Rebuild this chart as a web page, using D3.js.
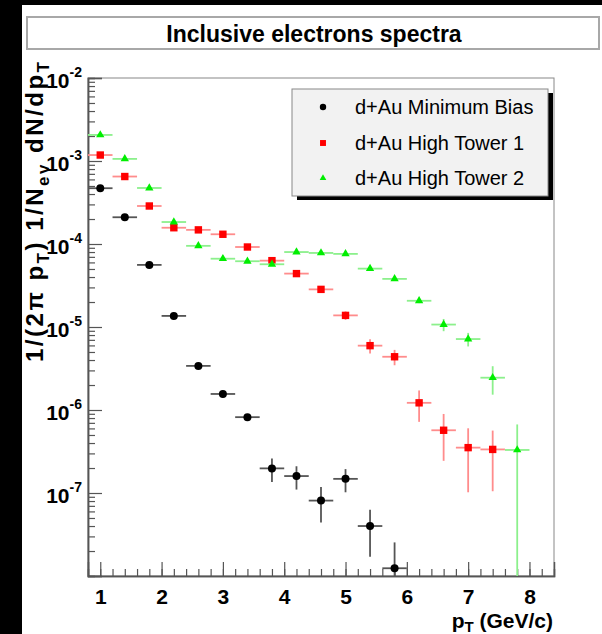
<!DOCTYPE html>
<html><head><meta charset="utf-8">
<script src="https://cdn.jsdelivr.net/npm/d3@7"></script>
<style>body{margin:0;background:#000;} svg{display:block;font-family:"Liberation Sans",Arial,sans-serif}</style>
</head><body>
<svg id="c" width="602" height="634"></svg>
<script>
// ---- data ----
const ptMB  = [1.0,1.4,1.8,2.2,2.6,3.0,3.4,3.8,4.2,4.6,5.0,5.4,5.8];
const valMB = [4.7e-4,2.1e-4,5.6e-5,1.36e-5,3.4e-6,1.56e-6,8.2e-7,1.98e-7,1.6e-7,8.1e-8,1.48e-7,4.0e-8,1.24e-8];
const errMB = [1e-5,5e-6,1.5e-6,5e-7,2e-7,1.4e-7,7e-8,6.2e-8,5e-8,3.7e-8,4.6e-8,2.3e-8,1.3e-8];

const ptHT1  = [1.0,1.4,1.8,2.2,2.6,3.0,3.4,3.8,4.2,4.6,5.0,5.4,5.8,6.2,6.6,7.0,7.4];
const valHT1 = [1.18e-3,6.5e-4,2.87e-4,1.57e-4,1.48e-4,1.31e-4,9.2e-5,6.3e-5,4.4e-5,2.84e-5,1.38e-5,5.96e-6,4.38e-6,1.22e-6,5.7e-7,3.52e-7,3.35e-7];
const errHT1 = [1.5e-5,8e-6,4e-6,2.5e-6,2.4e-6,2.2e-6,1.8e-6,1.5e-6,1.3e-6,1.1e-6,1.6e-6,1.15e-6,9.2e-7,5e-7,3.26e-7,2.5e-7,2.3e-7];

const ptHT2  = [1.0,1.4,1.8,2.2,2.6,3.0,3.4,3.8,4.2,4.6,5.0,5.4,5.8,6.2,6.6,7.0,7.4,7.8];
const valHT2 = [2.06e-3,1.06e-3,4.73e-4,1.84e-4,9.5e-5,6.65e-5,6.2e-5,5.7e-5,8.0e-5,7.8e-5,7.6e-5,5.05e-5,3.8e-5,2.07e-5,1.07e-5,7.16e-6,2.45e-6,3.3e-7];
const errHT2 = [3e-5,1.5e-5,7e-6,3e-6,2e-6,1.5e-6,1.4e-6,1.3e-6,1.8e-6,1.8e-6,1.8e-6,1.6e-6,1.4e-6,1.3e-6,1.8e-6,1.33e-6,9.2e-7,3.4e-7];

const binHalfWidth = 0.2;
const xTicks = [1,2,3,4,5,6,7,8];
const xTickLabels = ["1","2","3","4","5","6","7","8"];
const yDecades = [-2,-3,-4,-5,-6,-7];
const seriesNames = ["d+Au Minimum Bias","d+Au High Tower 1","d+Au High Tower 2"];
const titleText = "Inclusive electrons spectra";

// ---- layout ----
const L=88, R=554, T=78, B=576;
const svg = d3.select("#c");
svg.append("rect").attr("x",22).attr("y",5).attr("width",580).attr("height",629).attr("fill","#fff");

// title
svg.append("rect").attr("x",27).attr("y",17).attr("width",572).attr("height",32)
  .attr("fill","#fff").attr("stroke","#a8a8a8").attr("stroke-width",2);
svg.append("text").attr("x",314).attr("y",41.5).attr("text-anchor","middle")
  .attr("font-size",23).attr("font-weight","bold").attr("fill","#000").text(titleText);

const x = d3.scaleLinear().domain([0.8,8.4]).range([L,R]);
const y = d3.scaleLog().domain([1e-8,1e-2]).range([B,T]);

// frame
svg.append("rect").attr("x",L).attr("y",T).attr("width",R-L).attr("height",B-T)
  .attr("fill","none").attr("stroke","#888").attr("stroke-width",1);

// x axis ticks
const minorX = d3.range(4,43).map(i=>i*0.2).filter(v=>v>0.8+1e-9 && v<8.4-1e-9);
const gxm = svg.append("g").attr("transform",`translate(0,${B})`)
  .call(d3.axisBottom(x).tickValues(minorX).tickSize(-7).tickFormat(""));
const gx = svg.append("g").attr("transform",`translate(0,${B})`)
  .call(d3.axisBottom(x).tickValues(xTicks).tickSize(-14).tickPadding(13)
        .tickFormat((d,i)=>xTickLabels[i]));
// y axis ticks
const minorY = [];
for (let e=-8;e<-2;e++) for (let m=2;m<=9;m++) minorY.push(m*Math.pow(10,e));
const gym = svg.append("g").attr("transform",`translate(${L},0)`)
  .call(d3.axisLeft(y).tickValues(minorY).tickSize(-7).tickFormat(""));
const gy = svg.append("g").attr("transform",`translate(${L},0)`)
  .call(d3.axisLeft(y).tickValues(yDecades.map(d=>Math.pow(10,d)).concat([1e-8])).tickSize(-14).tickFormat(""));
[gxm,gx,gym,gy].forEach(g=>{
  g.select(".domain").attr("stroke","#555").attr("stroke-width",1.5);
  g.selectAll(".tick line").attr("stroke","#555").attr("stroke-width",1.2);
});
gx.selectAll(".tick text").attr("font-size",21).attr("font-weight","bold")
  .attr("fill","#000").attr("font-family","Liberation Sans, Arial, sans-serif");

// y labels 10^n
yDecades.forEach(d=>{
  const t = svg.append("text").attr("x",82).attr("y",y(Math.pow(10,d))+9.5)
    .attr("text-anchor","end").attr("font-weight","bold").attr("fill","#000");
  t.append("tspan").attr("font-size",21).text("10");
  t.append("tspan").attr("font-size",14).attr("dy",-11).text(String(d));
});

// axis titles
const yt = svg.append("text").attr("transform","translate(43,62) rotate(-90)")
  .attr("text-anchor","end").attr("font-weight","bold").attr("font-size",24).attr("fill","#000")
  .attr("textLength",300).attr("lengthAdjust","spacing");
yt.append("tspan").text("1/(2\u03C0 p");
yt.append("tspan").attr("font-size",17).attr("dy",6).text("T");
yt.append("tspan").attr("dy",-6).text(") 1/N");
yt.append("tspan").attr("font-size",17).attr("dy",6).text("ev");
yt.append("tspan").attr("dy",-6).text(" dN/dp");
yt.append("tspan").attr("font-size",17).attr("dy",6).text("T");

const xt = svg.append("text").attr("x",553).attr("y",628).attr("text-anchor","end")
  .attr("font-weight","bold").attr("font-size",21).attr("fill","#000");
xt.append("tspan").text("p");
xt.append("tspan").attr("font-size",15).attr("dy",4).text("T");
xt.append("tspan").attr("dy",-4).text(" (GeV/c)");

// ---- series ----
const series = [
  {pt:ptMB, v:valMB, e:errMB, color:"#000", ecolor:"#555", marker:"circle"},
  {pt:ptHT1, v:valHT1, e:errHT1, color:"#ff0000", ecolor:"#ff8c8c", marker:"square"},
  {pt:ptHT2, v:valHT2, e:errHT2, color:"#00ee00", ecolor:"#8cf08c", marker:"triangle"}
];
const clampY = v => (v<=1e-8 ? B : Math.max(T, Math.min(B, y(v))));

function drawMarker(g, type, cx, cy, color, s){
  if (type==="circle") g.append("circle").attr("cx",cx).attr("cy",cy).attr("r",4*s).attr("fill",color);
  else if (type==="square") g.append("rect").attr("x",cx-3.7*s).attr("y",cy-3.7*s).attr("width",7.4*s).attr("height",7.4*s).attr("fill",color);
  else g.append("path").attr("d",d3.symbol(d3.symbolTriangle, 30*s*s)()).attr("transform",`translate(${cx},${cy})`).attr("fill",color);
}

series.forEach(s=>{
  const g = svg.append("g");
  s.pt.forEach((p,i)=>{
    const v=s.v[i], e=s.e[i];
    g.append("line").attr("x1",x(p-binHalfWidth)).attr("x2",x(p+binHalfWidth))
      .attr("y1",y(v)).attr("y2",y(v)).attr("stroke",s.ecolor).attr("stroke-width",1.8);
    g.append("line").attr("x1",x(p)).attr("x2",x(p))
      .attr("y1",clampY(v+e)).attr("y2",clampY(v-e)).attr("stroke",s.ecolor).attr("stroke-width",1.8);
  });
  s.pt.forEach((p,i)=>drawMarker(g, s.marker, x(p), y(s.v[i]), s.color, 1));
});

// ---- legend ----
const lx=292, ly=89, lw=256, lh=107;
svg.append("rect").attr("x",lx+5).attr("y",ly+4).attr("width",lw).attr("height",lh).attr("fill","#000");
svg.append("rect").attr("x",lx).attr("y",ly).attr("width",lw).attr("height",lh)
  .attr("fill","#f2f2f2").attr("stroke","#888").attr("stroke-width",1);
const rows=[107,143,178];
series.forEach((s,i)=>{
  const g=svg.append("g");
  drawMarker(g, s.marker, 323, rows[i], s.color, 0.8);
  svg.append("text").attr("x",355).attr("y",rows[i]+7).attr("font-size",20).attr("fill","#000").text(seriesNames[i]);
});
</script>
</body></html>
